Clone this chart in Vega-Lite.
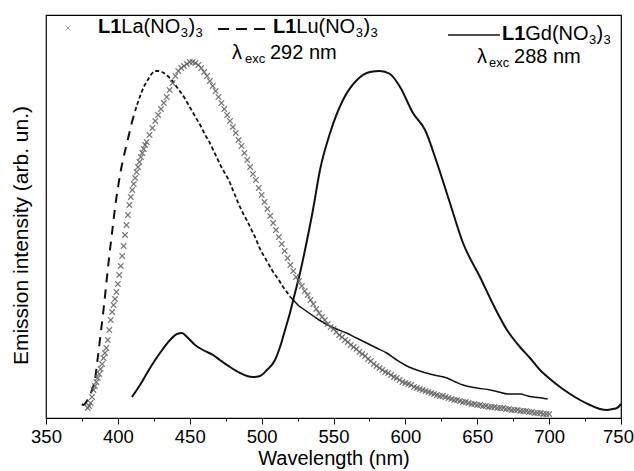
{
  "$schema": "https://vega.github.io/schema/vega-lite/v6.json",
  "width": 575,
  "height": 403,
  "autosize": {"type": "none"},
  "padding": {"left": 46, "top": 15, "right": 13, "bottom": 53},
  "config": {
    "view": {"stroke": "#000", "strokeWidth": 1.2},
    "font": "Liberation Sans"
  },
  "datasets": {
    "gd": [
      {"wl": 409.8, "v": 21}, {"wl": 415.4, "v": 33}, {"wl": 420.3, "v": 45}, {"wl": 425.0, "v": 56},
      {"wl": 429.3, "v": 65}, {"wl": 436.3, "v": 78}, {"wl": 441.1, "v": 84}, {"wl": 444.6, "v": 85},
      {"wl": 448.1, "v": 81}, {"wl": 453.7, "v": 73}, {"wl": 459.2, "v": 68}, {"wl": 466.2, "v": 63},
      {"wl": 471.0, "v": 58}, {"wl": 478.0, "v": 51}, {"wl": 485.0, "v": 45}, {"wl": 489.8, "v": 42},
      {"wl": 494.0, "v": 41}, {"wl": 498.9, "v": 42}, {"wl": 503.7, "v": 48}, {"wl": 509.3, "v": 58},
      {"wl": 512.8, "v": 71}, {"wl": 516.3, "v": 88}, {"wl": 519.7, "v": 105}, {"wl": 523.2, "v": 125},
      {"wl": 526.7, "v": 145}, {"wl": 531.6, "v": 178}, {"wl": 535.7, "v": 208}, {"wl": 540.6, "v": 248},
      {"wl": 547.6, "v": 285}, {"wl": 556.6, "v": 318}, {"wl": 566.3, "v": 338}, {"wl": 575.4, "v": 346},
      {"wl": 582.3, "v": 347}, {"wl": 589.3, "v": 344}, {"wl": 596.3, "v": 331}, {"wl": 605.3, "v": 305},
      {"wl": 613.7, "v": 288}, {"wl": 622.0, "v": 255}, {"wl": 631.0, "v": 215}, {"wl": 640.1, "v": 175},
      {"wl": 651.9, "v": 141}, {"wl": 662.3, "v": 110}, {"wl": 670.7, "v": 88}, {"wl": 679.7, "v": 71},
      {"wl": 686.7, "v": 60}, {"wl": 693.7, "v": 48}, {"wl": 700.6, "v": 39}, {"wl": 707.6, "v": 31},
      {"wl": 714.6, "v": 24}, {"wl": 721.5, "v": 18}, {"wl": 728.4, "v": 13}, {"wl": 735.4, "v": 9},
      {"wl": 740.3, "v": 8}, {"wl": 744.4, "v": 9}, {"wl": 747.2, "v": 10}, {"wl": 750.0, "v": 14}
    ],
    "lu": [
      {"wl": 375, "v": 14}, {"wl": 376, "v": 13}, {"wl": 377, "v": 14}, {"wl": 378, "v": 16},
      {"wl": 380, "v": 21}, {"wl": 382, "v": 28}, {"wl": 384, "v": 38}, {"wl": 386, "v": 60},
      {"wl": 388, "v": 84}, {"wl": 390, "v": 108}, {"wl": 392, "v": 135}, {"wl": 394, "v": 162},
      {"wl": 396, "v": 186}, {"wl": 398, "v": 210}, {"wl": 400, "v": 230}, {"wl": 402, "v": 247},
      {"wl": 404, "v": 261}, {"wl": 406, "v": 273}, {"wl": 408, "v": 285}, {"wl": 410, "v": 297},
      {"wl": 412, "v": 307}, {"wl": 414, "v": 316}, {"wl": 416, "v": 324}, {"wl": 418, "v": 331},
      {"wl": 420, "v": 336}, {"wl": 422, "v": 341}, {"wl": 424, "v": 345}, {"wl": 426, "v": 347},
      {"wl": 428, "v": 347}, {"wl": 430, "v": 346.5}, {"wl": 432, "v": 345}, {"wl": 434, "v": 343},
      {"wl": 436, "v": 340}, {"wl": 438, "v": 337}, {"wl": 440, "v": 333}, {"wl": 442, "v": 329},
      {"wl": 444, "v": 325}, {"wl": 446, "v": 321}, {"wl": 448, "v": 316}, {"wl": 450, "v": 311},
      {"wl": 452, "v": 306}, {"wl": 454, "v": 301}, {"wl": 456, "v": 296}, {"wl": 458, "v": 291},
      {"wl": 460, "v": 285}, {"wl": 462, "v": 280}, {"wl": 464, "v": 275}, {"wl": 466, "v": 269},
      {"wl": 468, "v": 263}, {"wl": 470, "v": 257}, {"wl": 472, "v": 251}, {"wl": 474, "v": 246},
      {"wl": 476, "v": 241}, {"wl": 478, "v": 235}, {"wl": 480, "v": 228}, {"wl": 482, "v": 221},
      {"wl": 484, "v": 214}, {"wl": 486, "v": 208}, {"wl": 488, "v": 202}, {"wl": 490, "v": 197},
      {"wl": 492, "v": 191}, {"wl": 494, "v": 185}, {"wl": 496, "v": 179}, {"wl": 498, "v": 172},
      {"wl": 500, "v": 166}, {"wl": 502, "v": 161}, {"wl": 504, "v": 156}, {"wl": 506, "v": 151},
      {"wl": 508, "v": 146}, {"wl": 510, "v": 142}, {"wl": 512, "v": 138}, {"wl": 514, "v": 133},
      {"wl": 516, "v": 129}, {"wl": 518, "v": 125}, {"wl": 520, "v": 121}, {"wl": 522, "v": 118},
      {"wl": 524, "v": 115}, {"wl": 526, "v": 112}, {"wl": 528, "v": 110}, {"wl": 532, "v": 106},
      {"wl": 536, "v": 102}, {"wl": 540, "v": 98},
      {"wl": 546, "v": 93}, {"wl": 552, "v": 89}, {"wl": 559, "v": 85}, {"wl": 566, "v": 80},
      {"wl": 573, "v": 75}, {"wl": 580, "v": 70}, {"wl": 587, "v": 65}, {"wl": 594, "v": 58},
      {"wl": 601, "v": 52}, {"wl": 606, "v": 49}, {"wl": 612, "v": 46}, {"wl": 620, "v": 43},
      {"wl": 629, "v": 40}, {"wl": 635, "v": 36}, {"wl": 640, "v": 33}, {"wl": 650, "v": 30},
      {"wl": 659, "v": 28}, {"wl": 665, "v": 26}, {"wl": 671, "v": 24}, {"wl": 675, "v": 24},
      {"wl": 680, "v": 24}, {"wl": 685, "v": 22}, {"wl": 689, "v": 21}, {"wl": 695, "v": 20},
      {"wl": 699, "v": 19}
    ],
    "la": [
      {"wl": 379, "v": 10}, {"wl": 380, "v": 12}, {"wl": 381, "v": 15}, {"wl": 382, "v": 21},
      {"wl": 383, "v": 28}, {"wl": 384, "v": 32}, {"wl": 385, "v": 36}, {"wl": 386, "v": 40},
      {"wl": 387, "v": 44}, {"wl": 388, "v": 49}, {"wl": 389, "v": 54}, {"wl": 390, "v": 60},
      {"wl": 391, "v": 65}, {"wl": 392, "v": 70}, {"wl": 393, "v": 78}, {"wl": 394, "v": 88},
      {"wl": 395, "v": 98}, {"wl": 396, "v": 106}, {"wl": 397, "v": 113}, {"wl": 398, "v": 119},
      {"wl": 399, "v": 126}, {"wl": 400, "v": 134}, {"wl": 401, "v": 143}, {"wl": 402, "v": 152},
      {"wl": 403, "v": 162}, {"wl": 404, "v": 172}, {"wl": 405, "v": 183}, {"wl": 406, "v": 193},
      {"wl": 407, "v": 203}, {"wl": 408, "v": 213}, {"wl": 409, "v": 221}, {"wl": 410, "v": 228},
      {"wl": 411, "v": 234}, {"wl": 412, "v": 240}, {"wl": 413, "v": 246}, {"wl": 414, "v": 251},
      {"wl": 415, "v": 256}, {"wl": 416, "v": 261}, {"wl": 417, "v": 265}, {"wl": 418, "v": 269},
      {"wl": 419, "v": 273}, {"wl": 420, "v": 276}, {"wl": 422, "v": 283}, {"wl": 424, "v": 290},
      {"wl": 426, "v": 297}, {"wl": 428, "v": 303}, {"wl": 430, "v": 309}, {"wl": 432, "v": 315},
      {"wl": 434, "v": 321}, {"wl": 436, "v": 328}, {"wl": 438, "v": 335}, {"wl": 440, "v": 342},
      {"wl": 442, "v": 347}, {"wl": 444, "v": 350}, {"wl": 446, "v": 352}, {"wl": 448, "v": 354},
      {"wl": 450, "v": 356}, {"wl": 452, "v": 356}, {"wl": 454, "v": 355}, {"wl": 456, "v": 353},
      {"wl": 458, "v": 350}, {"wl": 460, "v": 346}, {"wl": 462, "v": 342}, {"wl": 464, "v": 337},
      {"wl": 466, "v": 332}, {"wl": 468, "v": 327}, {"wl": 470, "v": 321}, {"wl": 472, "v": 315},
      {"wl": 474, "v": 309}, {"wl": 476, "v": 303}, {"wl": 478, "v": 297}, {"wl": 480, "v": 291},
      {"wl": 482, "v": 285}, {"wl": 484, "v": 278}, {"wl": 486, "v": 272}, {"wl": 488, "v": 265},
      {"wl": 490, "v": 258}, {"wl": 492, "v": 251}, {"wl": 494, "v": 244}, {"wl": 496, "v": 238},
      {"wl": 498, "v": 230}, {"wl": 500, "v": 223}, {"wl": 502, "v": 216}, {"wl": 504, "v": 209},
      {"wl": 506, "v": 202}, {"wl": 508, "v": 195}, {"wl": 510, "v": 188}, {"wl": 512, "v": 181},
      {"wl": 514, "v": 174}, {"wl": 516, "v": 167}, {"wl": 518, "v": 160}, {"wl": 520, "v": 153},
      {"wl": 522, "v": 147}, {"wl": 524, "v": 141}, {"wl": 526, "v": 137}, {"wl": 528, "v": 132},
      {"wl": 530, "v": 127}, {"wl": 532, "v": 123}, {"wl": 534, "v": 118}, {"wl": 536, "v": 114},
      {"wl": 538, "v": 109}, {"wl": 540, "v": 105}, {"wl": 542, "v": 101}, {"wl": 544, "v": 98},
      {"wl": 546, "v": 94}, {"wl": 548, "v": 91}, {"wl": 550, "v": 89}, {"wl": 552, "v": 86},
      {"wl": 554, "v": 83}, {"wl": 556, "v": 81}, {"wl": 558, "v": 78}, {"wl": 560, "v": 76},
      {"wl": 562, "v": 73}, {"wl": 564, "v": 71}, {"wl": 566, "v": 69}, {"wl": 568, "v": 66},
      {"wl": 570, "v": 64}, {"wl": 572, "v": 62}, {"wl": 574, "v": 59}, {"wl": 576, "v": 57},
      {"wl": 578, "v": 54}, {"wl": 580, "v": 52}, {"wl": 582, "v": 50}, {"wl": 584, "v": 48},
      {"wl": 586, "v": 46}, {"wl": 588, "v": 45}, {"wl": 590, "v": 43}, {"wl": 592, "v": 41},
      {"wl": 594, "v": 40}, {"wl": 596, "v": 38}, {"wl": 598, "v": 36}, {"wl": 600, "v": 35},
      {"wl": 602, "v": 34}, {"wl": 604, "v": 33}, {"wl": 606, "v": 31}, {"wl": 608, "v": 30},
      {"wl": 610, "v": 29}, {"wl": 612, "v": 28}, {"wl": 614, "v": 27}, {"wl": 616, "v": 26},
      {"wl": 618, "v": 25}, {"wl": 620, "v": 24}, {"wl": 622, "v": 23}, {"wl": 624, "v": 22},
      {"wl": 626, "v": 22}, {"wl": 628, "v": 21}, {"wl": 630, "v": 20}, {"wl": 632, "v": 19},
      {"wl": 634, "v": 18}, {"wl": 636, "v": 18}, {"wl": 638, "v": 17}, {"wl": 640, "v": 16},
      {"wl": 642, "v": 16}, {"wl": 644, "v": 15}, {"wl": 646, "v": 14}, {"wl": 648, "v": 14},
      {"wl": 650, "v": 13}, {"wl": 652, "v": 13}, {"wl": 654, "v": 12}, {"wl": 656, "v": 12},
      {"wl": 658, "v": 11}, {"wl": 660, "v": 11}, {"wl": 662, "v": 11}, {"wl": 664, "v": 10},
      {"wl": 666, "v": 10}, {"wl": 668, "v": 10}, {"wl": 670, "v": 9}, {"wl": 672, "v": 9},
      {"wl": 674, "v": 8}, {"wl": 676, "v": 8}, {"wl": 678, "v": 8}, {"wl": 680, "v": 7},
      {"wl": 682, "v": 7}, {"wl": 684, "v": 7}, {"wl": 686, "v": 6}, {"wl": 688, "v": 6},
      {"wl": 690, "v": 5}, {"wl": 692, "v": 5}, {"wl": 694, "v": 5}, {"wl": 696, "v": 4},
      {"wl": 698, "v": 4}, {"wl": 700, "v": 4}
    ],
    "legLa": [{"wl": 365.3, "v": 390}],
    "legLu": [{"wl": 469.7, "v": 389}, {"wl": 507.2, "v": 389}],
    "legGd": [{"wl": 629.7, "v": 383}, {"wl": 665.8, "v": 383}],
    "legBold": [
      {"wl": 386.17, "v": 385, "t": "L1"},
      {"wl": 507.9, "v": 385, "t": "L1"},
      {"wl": 667.2, "v": 378, "t": "L1"}
    ],
    "legReg": [
      {"wl": 402.38, "v": 385, "t": "La(NO"},
      {"wl": 449.1, "v": 385, "t": ")"},
      {"wl": 524.1, "v": 385, "t": "Lu(NO"},
      {"wl": 570.9, "v": 385, "t": ")"},
      {"wl": 683.4, "v": 378, "t": "Gd(NO"},
      {"wl": 733.0, "v": 378, "t": ")"},
      {"wl": 479.4, "v": 359, "t": "λ"},
      {"wl": 505.8, "v": 359, "t": "292 nm"},
      {"wl": 649.8, "v": 355, "t": "λ"},
      {"wl": 675.6, "v": 355, "t": "288 nm"}
    ],
    "legSub": [
      {"wl": 443.7, "v": 381, "t": "3"},
      {"wl": 454.0, "v": 381, "t": "3"},
      {"wl": 565.4, "v": 381, "t": "3"},
      {"wl": 575.7, "v": 381, "t": "3"},
      {"wl": 727.7, "v": 374, "t": "3"},
      {"wl": 737.8, "v": 374, "t": "3"},
      {"wl": 488.4, "v": 355, "t": "exc"},
      {"wl": 658.2, "v": 351, "t": "exc"}
    ]
  },
  "encoding": {
    "x": {
      "field": "wl", "type": "quantitative",
      "scale": {"domain": [350, 750], "nice": false, "zero": false},
      "axis": {
        "values": [350, 375, 400, 425, 450, 475, 500, 525, 550, 575, 600, 625, 650, 675, 700, 725, 750],
        "labelExpr": "datum.value % 50 === 0 ? datum.label : ''",
        "tickSize": {"condition": {"test": "datum.value % 50 === 0", "value": 6}, "value": 3},
        "labelOffset": {"condition": {"test": "datum.value === 750", "value": -3}, "value": 0},
        "tickColor": "#000", "tickWidth": 1,
        "domainColor": "#000", "domainWidth": 1.2,
        "labelFontSize": 18.5, "labelColor": "#000", "labelFont": "Liberation Sans",
        "labelPadding": 3, "labelOverlap": false, "labelFlush": false, "labelBound": false,
        "grid": false,
        "title": "Wavelength (nm)", "titleFontSize": 20, "titleFontWeight": "normal",
        "titleColor": "#000", "titleFont": "Liberation Sans", "titlePadding": 3
      }
    },
    "y": {
      "field": "v", "type": "quantitative",
      "scale": {"domain": [0, 403], "nice": false, "zero": false},
      "axis": {
        "title": "Emission intensity (arb. un.)",
        "labels": false, "ticks": false, "domain": false, "grid": false,
        "titleFontSize": 21, "titleFontWeight": "normal", "titleColor": "#000",
        "titleFont": "Liberation Sans", "titlePadding": 15, "titleY": 220
      }
    }
  },
  "layer": [
    {
      "data": {"name": "gd"},
      "mark": {"type": "line", "color": "#111", "strokeWidth": 2, "interpolate": "monotone"}
    },
    {
      "data": {"name": "lu"},
      "transform": [{"filter": {"field": "wl", "range": [374, 412]}}],
      "mark": {"type": "line", "color": "#111", "strokeWidth": 2, "strokeDash": [9, 7], "interpolate": "monotone"}
    },
    {
      "data": {"name": "lu"},
      "transform": [{"filter": {"field": "wl", "range": [412, 520]}}],
      "mark": {"type": "line", "color": "#111", "strokeWidth": 1.8, "strokeDash": [4, 2.5], "interpolate": "monotone"}
    },
    {
      "data": {"name": "lu"},
      "transform": [{"filter": {"field": "wl", "range": [520, 700]}}],
      "mark": {"type": "line", "color": "#111", "strokeWidth": 1.5, "interpolate": "monotone"}
    },
    {
      "data": {"name": "la"},
      "mark": {"type": "point", "shape": "M-1,-1L1,1M-1,1L1,-1", "filled": false, "stroke": "#5f5f5f", "strokeWidth": 1.1, "size": 30, "opacity": 0.85}
    },
    {
      "data": {"name": "legLa"},
      "mark": {"type": "point", "shape": "M-1,-1L1,1M-1,1L1,-1", "filled": false, "stroke": "#777", "strokeWidth": 1, "size": 22}
    },
    {
      "data": {"name": "legLu"},
      "mark": {"type": "line", "color": "#111", "strokeWidth": 2, "strokeDash": [11, 7]}
    },
    {
      "data": {"name": "legGd"},
      "mark": {"type": "line", "color": "#111", "strokeWidth": 1.6}
    },
    {
      "data": {"name": "legBold"},
      "mark": {"type": "text", "align": "left", "baseline": "alphabetic", "fontSize": 20, "fontWeight": "bold", "color": "#000", "font": "Liberation Sans"},
      "encoding": {"text": {"field": "t"}}
    },
    {
      "data": {"name": "legReg"},
      "mark": {"type": "text", "align": "left", "baseline": "alphabetic", "fontSize": 20, "color": "#000", "font": "Liberation Sans"},
      "encoding": {"text": {"field": "t"}}
    },
    {
      "data": {"name": "legSub"},
      "mark": {"type": "text", "align": "left", "baseline": "alphabetic", "fontSize": 13, "color": "#000", "font": "Liberation Sans"},
      "encoding": {"text": {"field": "t"}}
    }
  ]
}
